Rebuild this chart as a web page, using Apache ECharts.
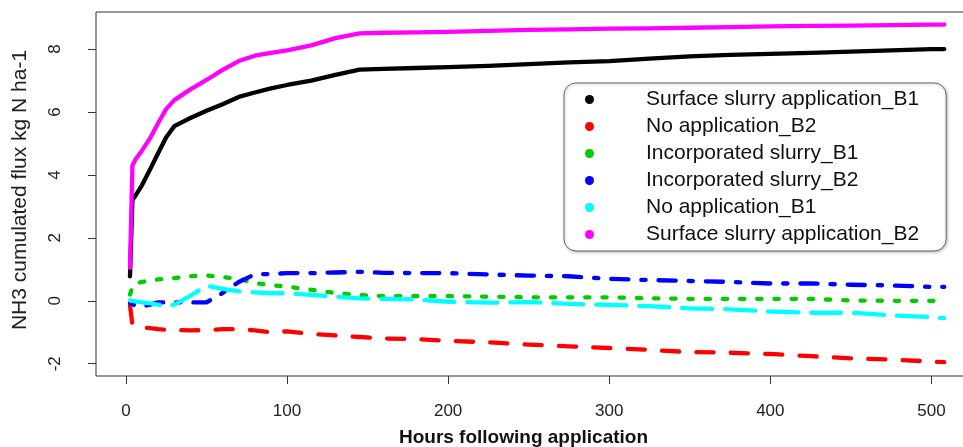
<!DOCTYPE html>
<html>
<head>
<meta charset="utf-8">
<script src="https://cdn.jsdelivr.net/npm/echarts@6/dist/echarts.min.js"></script>
<style>html,body{margin:0;padding:0;background:#fff}#c{width:963px;height:447px}</style>
</head>
<body>
<div id="c"></div>
<script>
// Hours after application (shared sampling times)
const hours = [2.5, 4, 6, 10, 15, 20, 25, 30, 40, 50, 60, 70, 80, 90, 100, 115, 130, 145, 160, 180, 200, 225, 250, 275, 300, 325, 350, 375, 400, 425, 450, 475, 500, 508];

const surfaceB1 = [0.78, 3.20, 3.35, 3.68, 4.18, 4.70, 5.20, 5.55, 5.81, 6.04, 6.25, 6.48, 6.62, 6.75, 6.86, 7.00, 7.18, 7.35, 7.37, 7.40, 7.43, 7.47, 7.52, 7.58, 7.62, 7.70, 7.77, 7.82, 7.85, 7.88, 7.92, 7.96, 8.00, 8.00];
const noAppB2    = [-0.15, -0.76, -0.82, -0.85, -0.87, -0.90, -0.92, -0.93, -0.94, -0.93, -0.90, -0.90, -0.94, -1.00, -0.97, -1.05, -1.10, -1.15, -1.20, -1.22, -1.27, -1.32, -1.39, -1.45, -1.50, -1.56, -1.63, -1.65, -1.69, -1.76, -1.83, -1.87, -1.93, -1.95];
const incorpB1   = [0.20, 0.45, 0.55, 0.60, 0.65, 0.68, 0.70, 0.72, 0.78, 0.81, 0.75, 0.70, 0.56, 0.50, 0.45, 0.35, 0.25, 0.18, 0.15, 0.15, 0.15, 0.13, 0.11, 0.11, 0.11, 0.08, 0.06, 0.06, 0.06, 0.06, 0.01, 0.00, 0.00, 0.00];
const incorpB2   = [-0.07, -0.10, -0.15, -0.18, -0.12, -0.05, -0.05, -0.05, -0.05, -0.05, 0.25, 0.60, 0.84, 0.85, 0.88, 0.88, 0.90, 0.92, 0.89, 0.88, 0.88, 0.84, 0.80, 0.78, 0.70, 0.66, 0.63, 0.60, 0.55, 0.55, 0.51, 0.49, 0.44, 0.44];
const noAppB1    = [0.01, 0.00, -0.02, -0.05, -0.08, -0.12, -0.18, -0.12, 0.16, 0.48, 0.38, 0.30, 0.27, 0.24, 0.24, 0.19, 0.13, 0.08, 0.06, 0.04, -0.03, -0.06, -0.04, -0.10, -0.13, -0.17, -0.24, -0.27, -0.34, -0.38, -0.38, -0.46, -0.52, -0.55];
const surfaceB2  = [1.05, 4.30, 4.50, 4.78, 5.17, 5.65, 6.10, 6.38, 6.72, 7.02, 7.34, 7.62, 7.79, 7.88, 7.96, 8.12, 8.35, 8.50, 8.52, 8.53, 8.55, 8.58, 8.61, 8.63, 8.65, 8.66, 8.68, 8.70, 8.72, 8.74, 8.75, 8.76, 8.78, 8.78];

const seriesNames = ['Surface slurry application_B1', 'No application_B2', 'Incorporated slurry_B1', 'Incorporated slurry_B2', 'No application_B1', 'Surface slurry application_B2'];
const xTicks = [0, 100, 200, 300, 400, 500];
const yTicks = [-2, 0, 2, 4, 6, 8];

const FONT = 'Liberation Sans, Arial, sans-serif';
const W = 4.3;
const styles = [
  {color: '#000000', type: 'solid'},
  {color: '#ff0000', type: [4 * W, 4 * W]},
  {color: '#00cc00', type: [1 * W, 3 * W]},
  {color: '#0000ff', type: [1 * W, 3 * W, 4 * W, 3 * W]},
  {color: '#00ffff', type: [7 * W, 3 * W]},
  {color: '#ff00ff', type: 'solid'}
];
const values = [surfaceB1, noAppB2, incorpB1, incorpB2, noAppB1, surfaceB2];

const chart = echarts.init(document.getElementById('c'), null, {renderer: 'canvas'});
chart.setOption({
  animation: false,
  backgroundColor: '#ffffff',
  grid: {left: 96, top: 12, width: 881, height: 364, show: true, borderColor: '#333', borderWidth: 1, backgroundColor: 'transparent', containLabel: false, outerBoundsMode: 'none'},
  xAxis: {
    type: 'value', min: -18.6, max: 528.3,
    axisLine: {show: false, onZero: false},
    splitLine: {show: false},
    axisTick: {show: true, customValues: xTicks, length: 8, lineStyle: {color: '#333', width: 1}},
    axisLabel: {customValues: xTicks, fontSize: 17, margin: 27, color: '#222', fontFamily: FONT},
    name: 'Hours following application', nameLocation: 'middle', nameGap: 52,
    nameTextStyle: {fontSize: 19, fontWeight: 'bold', color: '#111', fontFamily: FONT, padding: [0, 26, 0, 0]}
  },
  yAxis: {
    type: 'value', min: -2.39, max: 9.18,
    axisLine: {show: false, onZero: false},
    splitLine: {show: false},
    axisTick: {show: true, customValues: yTicks, length: 8, lineStyle: {color: '#333', width: 1}},
    axisLabel: {customValues: yTicks, fontSize: 17, margin: 32, rotate: 90, color: '#222', fontFamily: FONT},
    name: 'NH3 cumulated flux kg N ha-1', nameLocation: 'middle', nameGap: 65,
    nameTextStyle: {fontSize: 21, color: '#222', fontFamily: FONT, padding: [0, 0, 0, 8]}
  },
  legend: {
    left: 564, top: 83, orient: 'vertical',
    icon: 'circle', itemWidth: 9, itemHeight: 9, itemGap: 6,
    padding: [6, 27, 6, 21],
    backgroundColor: '#fff', borderColor: '#666', borderWidth: 1, borderRadius: 12,
    shadowColor: 'rgba(0,0,0,0.25)', shadowBlur: 3, shadowOffsetX: 1, shadowOffsetY: 1,
    itemStyle: {borderWidth: 0},
    textStyle: {fontSize: 21, lineHeight: 21, color: '#111', fontFamily: FONT, padding: [0, 0, 0, 47]},
    data: seriesNames
  },
  series: seriesNames.map((name, i) => ({
    name: name,
    type: 'line',
    symbol: 'circle',
    showSymbol: false,
    data: hours.map((h, j) => [h, values[i][j]]),
    itemStyle: {color: styles[i].color},
    lineStyle: {color: styles[i].color, width: W, type: styles[i].type, cap: 'round', join: 'round'},
    emphasis: {disabled: true},
    z: 2 + i
  }))
});
</script>
</body>
</html>
